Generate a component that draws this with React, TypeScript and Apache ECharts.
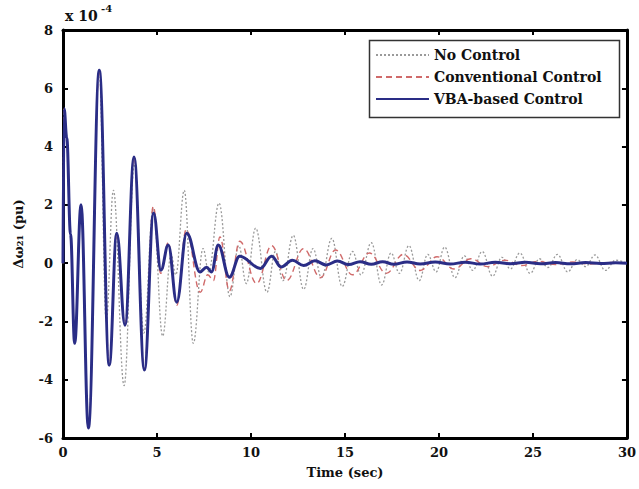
import React, { useEffect, useRef } from "react";
import * as echarts from "echarts";

// Time (sec) and Δω21 (×1e-4 pu) at the extrema of each curve
const vbaT = [0, 0.06, 0.2, 0.4, 0.62, 0.96, 1.35, 1.93, 2.46, 2.86, 3.3, 3.78, 4.33, 4.82, 5.21, 5.6, 6.05, 6.58, 7.29, 7.64, 7.9, 8.26, 8.85, 9.4, 10.5, 11.1, 11.6, 12.2, 12.8, 13.4, 14.0, 14.6, 15.2, 15.8, 16.4, 17.0, 17.6, 18.3, 19.0, 19.8, 20.6, 21.4, 22.2, 23.0, 23.8, 24.6, 25.4, 26.2, 27.0, 27.8, 28.6, 29.4, 30];
const vbaV = [0, 5.3, 4.3, 1.0, -2.75, 2.0, -5.66, 6.62, -3.5, 1.03, -2.13, 3.64, -3.67, 1.72, -0.24, 0.62, -1.34, 1.03, -0.3, -0.14, -0.3, 0.62, -0.48, 0.24, -0.18, 0.24, -0.13, 0.1, -0.08, 0.08, -0.06, 0.07, -0.05, 0.05, -0.04, 0.05, -0.04, 0.04, -0.03, 0.04, -0.03, 0.03, -0.03, 0.03, -0.02, 0.03, -0.02, 0.02, -0.02, 0.02, -0.01, 0.01, 0];

const convT = [0, 0.06, 0.2, 0.4, 0.62, 0.96, 1.35, 1.93, 2.46, 2.86, 3.3, 3.78, 4.33, 4.8, 5.2, 5.6, 6.05, 6.55, 7.3, 7.7, 8.0, 8.35, 8.85, 9.4, 10.3, 11.1, 11.9, 12.8, 13.7, 14.5, 15.4, 16.3, 17.2, 18.1, 19.0, 19.9, 20.8, 21.7, 22.6, 23.5, 24.4, 25.3, 26.2, 27.1, 28.0, 29.0, 30];
const convV = [0, 5.3, 4.3, 1.0, -2.75, 2.0, -5.66, 6.62, -3.5, 1.03, -2.13, 3.64, -3.67, 1.95, -0.35, 0.7, -1.45, 1.15, -1.0, -0.4, -0.6, 0.9, -0.95, 0.75, -0.7, 0.6, -0.6, 0.5, -0.5, 0.45, -0.4, 0.35, -0.35, 0.3, -0.25, 0.22, -0.2, 0.15, -0.12, 0.1, -0.08, 0.06, -0.05, 0.04, -0.03, 0.02, 0];

const noT = [0, 0.06, 0.2, 0.4, 0.62, 0.96, 1.35, 1.93, 2.3, 2.68, 3.25, 3.8, 4.3, 4.8, 5.3, 5.75, 6.0, 6.45, 6.93, 7.45, 7.75, 8.3, 8.88, 9.35, 9.75, 10.25, 10.85, 11.3, 11.7, 12.25, 12.8, 13.3, 13.75, 14.3, 14.85, 15.4, 15.85, 16.4, 16.95, 17.45, 17.9, 18.4, 18.95, 19.4, 19.85, 20.3, 20.85, 21.35, 21.8, 22.3, 22.85, 23.35, 23.8, 24.3, 24.85, 25.35, 25.8, 26.3, 26.85, 27.35, 27.8, 28.3, 28.85, 29.4, 30];
const noV = [0, 5.3, 4.3, 1.0, -2.75, 2.0, -5.66, 6.62, -2.0, 2.5, -4.2, 3.4, -2.4, 1.9, -2.5, 0.3, -0.4, 2.5, -2.75, 0.5, -0.3, 2.06, -1.15, 0.6, -0.7, 1.2, -1.0, 0.4, -0.6, 0.95, -0.9, 0.5, -0.5, 0.85, -0.8, 0.4, -0.4, 0.7, -0.75, 0.35, -0.35, 0.6, -0.6, 0.3, -0.3, 0.55, -0.5, 0.25, -0.25, 0.4, -0.45, 0.2, -0.2, 0.35, -0.35, 0.15, -0.15, 0.3, -0.3, 0.12, -0.12, 0.28, -0.25, 0.1, 0];

const seriesNames = ["No Control", "Conventional Control", "VBA-based Control"];
const xTicks = { min: 0, max: 30, interval: 5 };
const yTicks = { min: -6, max: 8, interval: 2 };

const pair = (t: number[], v: number[]) => t.map((x, i) => [x, v[i]]);

const FONT = "DejaVu Serif";

export default function App() {
  const ref = useRef<HTMLDivElement>(null);
  useEffect(() => {
    if (!ref.current) return;
    const chart = echarts.init(ref.current, null, { renderer: "svg" });
    const axisCommon = {
      axisLine: { show: true, onZero: false, lineStyle: { color: "#000", width: 3 } },
      axisTick: { show: true, inside: true, length: 5, lineStyle: { color: "#000", width: 2 } },
      splitLine: { show: false },
    };
    chart.setOption({
      animation: false,
      backgroundColor: "#fff",
      grid: { left: 63, right: 12, top: 30, bottom: 51 },
      xAxis: [
        {
          type: "value", ...xTicks, ...axisCommon,
          axisLabel: { color: "#111", fontFamily: FONT, fontWeight: "bold", fontSize: 13, margin: 8 },
          name: "Time (sec)", nameLocation: "middle", nameGap: 28,
          nameTextStyle: { color: "#111", fontFamily: FONT, fontWeight: "bold", fontSize: 13 },
        },
        { type: "value", position: "top", ...xTicks, ...axisCommon, axisLabel: { show: false } },
      ],
      yAxis: [
        {
          type: "value", ...yTicks, ...axisCommon,
          axisLabel: { color: "#111", fontFamily: FONT, fontWeight: "bold", fontSize: 13, margin: 10 },
          name: "Δω₂₁ (pu)", nameLocation: "middle", nameGap: 38, nameRotate: 90,
          nameTextStyle: { color: "#111", fontFamily: FONT, fontWeight: "bold", fontSize: 13 },
        },
        { type: "value", position: "right", ...yTicks, ...axisCommon, axisLabel: { show: false } },
      ],
      legend: {
        orient: "vertical", left: 375, top: 48, itemWidth: 53, itemHeight: 14, itemGap: 8,
        padding: 0,
        itemStyle: { opacity: 0 },
        textStyle: { color: "#111", fontFamily: FONT, fontWeight: "bold", fontSize: 14 },
        data: seriesNames,
      },
      graphic: [
        { type: "rect", left: 367, top: 38, shape: { width: 250, height: 77 }, style: { fill: "none", stroke: "#333", lineWidth: 1.5 }, z: 100 },
        { type: "text", left: 65, top: 9, style: { text: "x 10", fill: "#111", font: `bold 14px '${FONT}'` } },
        { type: "text", left: 101, top: 3, style: { text: "-4", fill: "#111", font: `bold 10px '${FONT}'` } },
      ],
      series: [
        {
          name: seriesNames[0], type: "line", data: pair(noT, noV), showSymbol: false, symbol: "none",
          smooth: 0.4, smoothMonotone: "x",
          lineStyle: { color: "#9a9a9a", width: 1.3, type: [2, 2] }, itemStyle: { color: "#9a9a9a" }, z: 2,
        },
        {
          name: seriesNames[1], type: "line", data: pair(convT, convV), showSymbol: false, symbol: "none",
          smooth: 0.4, smoothMonotone: "x",
          lineStyle: { color: "#d06a6a", width: 1.4, type: [6, 4] }, itemStyle: { color: "#d06a6a" }, z: 3,
        },
        {
          name: seriesNames[2], type: "line", data: pair(vbaT, vbaV), showSymbol: false, symbol: "none",
          smooth: 0.4, smoothMonotone: "x",
          lineStyle: { color: "#2a2d86", width: 3 }, itemStyle: { color: "#2a2d86" }, z: 4,
        },
      ],
    });
    return () => chart.dispose();
  }, []);
  return <div ref={ref} style={{ position: "fixed", left: 0, top: 0, width: 639, height: 489 }} />;
}
